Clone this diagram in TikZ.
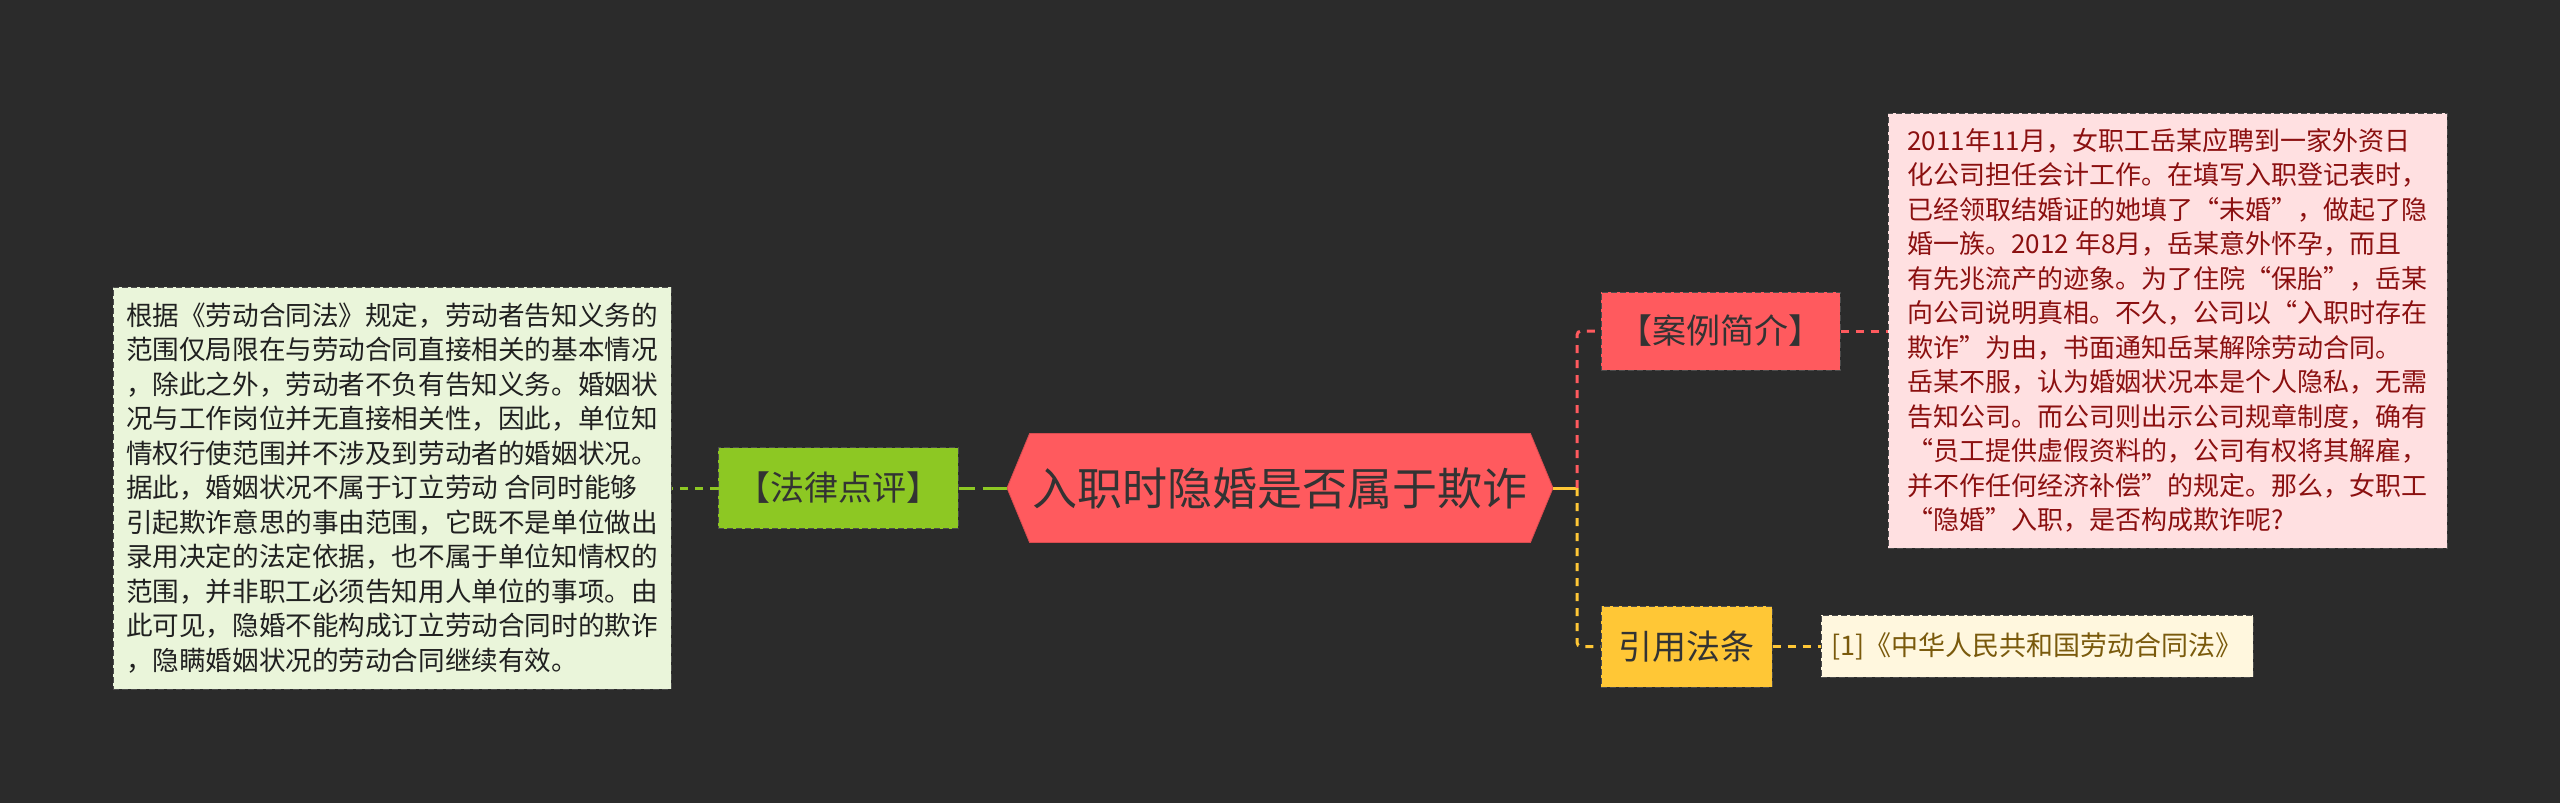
\documentclass[tikz,border=0pt]{standalone}
\usepackage{fontspec}
\setmainfont{Noto Sans CJK SC}
\usetikzlibrary{shapes.symbols}
\definecolor{bgGray}{HTML}{2B2B2B}
\definecolor{rootRed}{HTML}{FF5A5E}
\definecolor{reviewGreen}{HTML}{8DC823}
\definecolor{commentGreen}{HTML}{EAF5DA}
\definecolor{commentText}{HTML}{202020}
\definecolor{storyPink}{HTML}{FFE0E1}
\definecolor{storyText}{HTML}{8B1010}
\definecolor{lawYellow}{HTML}{FFC736}
\definecolor{citeCream}{HTML}{FFF7DE}
\definecolor{citeText}{HTML}{7A5A0C}
\definecolor{inkGray}{HTML}{333333}

\begin{document}
\begin{tikzpicture}[x=0.5pt, y=-0.5pt,
    every node/.style={inner sep=0pt, text=inkGray},
    box/.style={draw=black!70, dash pattern=on 3pt off 1.5pt, line width=0.5pt},
    topic/.style={box, font=\fontsize{17pt}{20pt}\selectfont},
    textbox/.style={box, align=left, font=\fontsize{13.3pt}{17.25pt}\selectfont},
    link/.style={line width=1.5pt, dash pattern=on 4pt off 3.5pt, rounded corners=2pt}]
\fill[bgGray] (0,0) rectangle (2560,803);
\useasboundingbox (0,0) rectangle (2560,803);

\node (root) at (1280,488) [signal, signal to=east and west, signal pointer angle=135,
    fill=rootRed, draw=rootRed!85!black, line width=0.4pt,
    minimum width=273pt, minimum height=54.5pt,
    font=\fontsize{22.5pt}{26pt}\selectfont] {入职时隐婚是否属于欺诈};

\node (review) at (838,488) [topic, fill=reviewGreen,
    minimum width=120pt, minimum height=40.5pt] {【法律点评】};
\node (comment) at (392,488) [textbox, fill=commentGreen, text=commentText,
    minimum width=279pt, minimum height=201pt] {%
根据《劳动合同法》规定，劳动者告知义务的\\
范围仅局限在与劳动合同直接相关的基本情况\\
，除此之外，劳动者不负有告知义务。婚姻状\\
况与工作岗位并无直接相关性，因此，单位知\\
情权行使范围并不涉及到劳动者的婚姻状况。\\
据此，婚姻状况不属于订立劳动 合同时能够\\
引起欺诈意思的事由范围，它既不是单位做出\\
录用决定的法定依据，也不属于单位知情权的\\
范围，并非职工必须告知用人单位的事项。由\\
此可见，隐婚不能构成订立劳动合同时的欺诈\\
，隐瞒婚姻状况的劳动合同继续有效。};

\node (case) at (1720.5,331) [topic, fill=rootRed,
    minimum width=119.5pt, minimum height=39pt] {【案例简介】};
\node (story) at (2167.5,330.5) [textbox, fill=storyPink, text=storyText,
    font=\fontsize{13pt}{17.25pt}\selectfont,
    minimum width=279.5pt, minimum height=217.5pt] {%
2011年11月，女职工岳某应聘到一家外资日\\
化公司担任会计工作。在填写入职登记表时，\\
已经领取结婚证的她填了“未婚”，做起了隐\\
婚一族。2012 年8月，岳某意外怀孕，而且\\
有先兆流产的迹象。为了住院“保胎”，岳某\\
向公司说明真相。不久，公司以“入职时存在\\
欺诈”为由，书面通知岳某解除劳动合同。\\
岳某不服，认为婚姻状况本是个人隐私，无需\\
告知公司。而公司则出示公司规章制度，确有\\
“员工提供虚假资料的，公司有权将其解雇，\\
并不作任何经济补偿”的规定。那么，女职工\\
“隐婚”入职，是否构成欺诈呢?};

\node (law) at (1686.5,646.5) [topic, fill=lawYellow,
    minimum width=85.5pt, minimum height=40.5pt] {引用法条};
\node (cite) at (2037,646) [box, fill=citeCream, text=citeText,
    font=\fontsize{13.5pt}{16pt}\selectfont,
    minimum width=216pt, minimum height=31pt] {[1]《中华人民共和国劳动合同法》};

\coordinate (fork) at (1577,488);
\draw[link, solid, lawYellow] (root.east) -- (fork);
\foreach \n/\c in {case/rootRed, law/lawYellow}
{
    \draw[link, \c] (fork) |- (\n.west);
}
\draw[link, rootRed] (case.east) -- (case.east -| story.west);
\draw[link, lawYellow] (law.east) -- (law.east -| cite.west);
\draw[link, reviewGreen, dash pattern=on 8pt off 4pt on 40pt] (review.east) -- (root.west);
\draw[link, reviewGreen] (review.west) -- (review.west -| comment.east);

\end{tikzpicture}
\end{document}
